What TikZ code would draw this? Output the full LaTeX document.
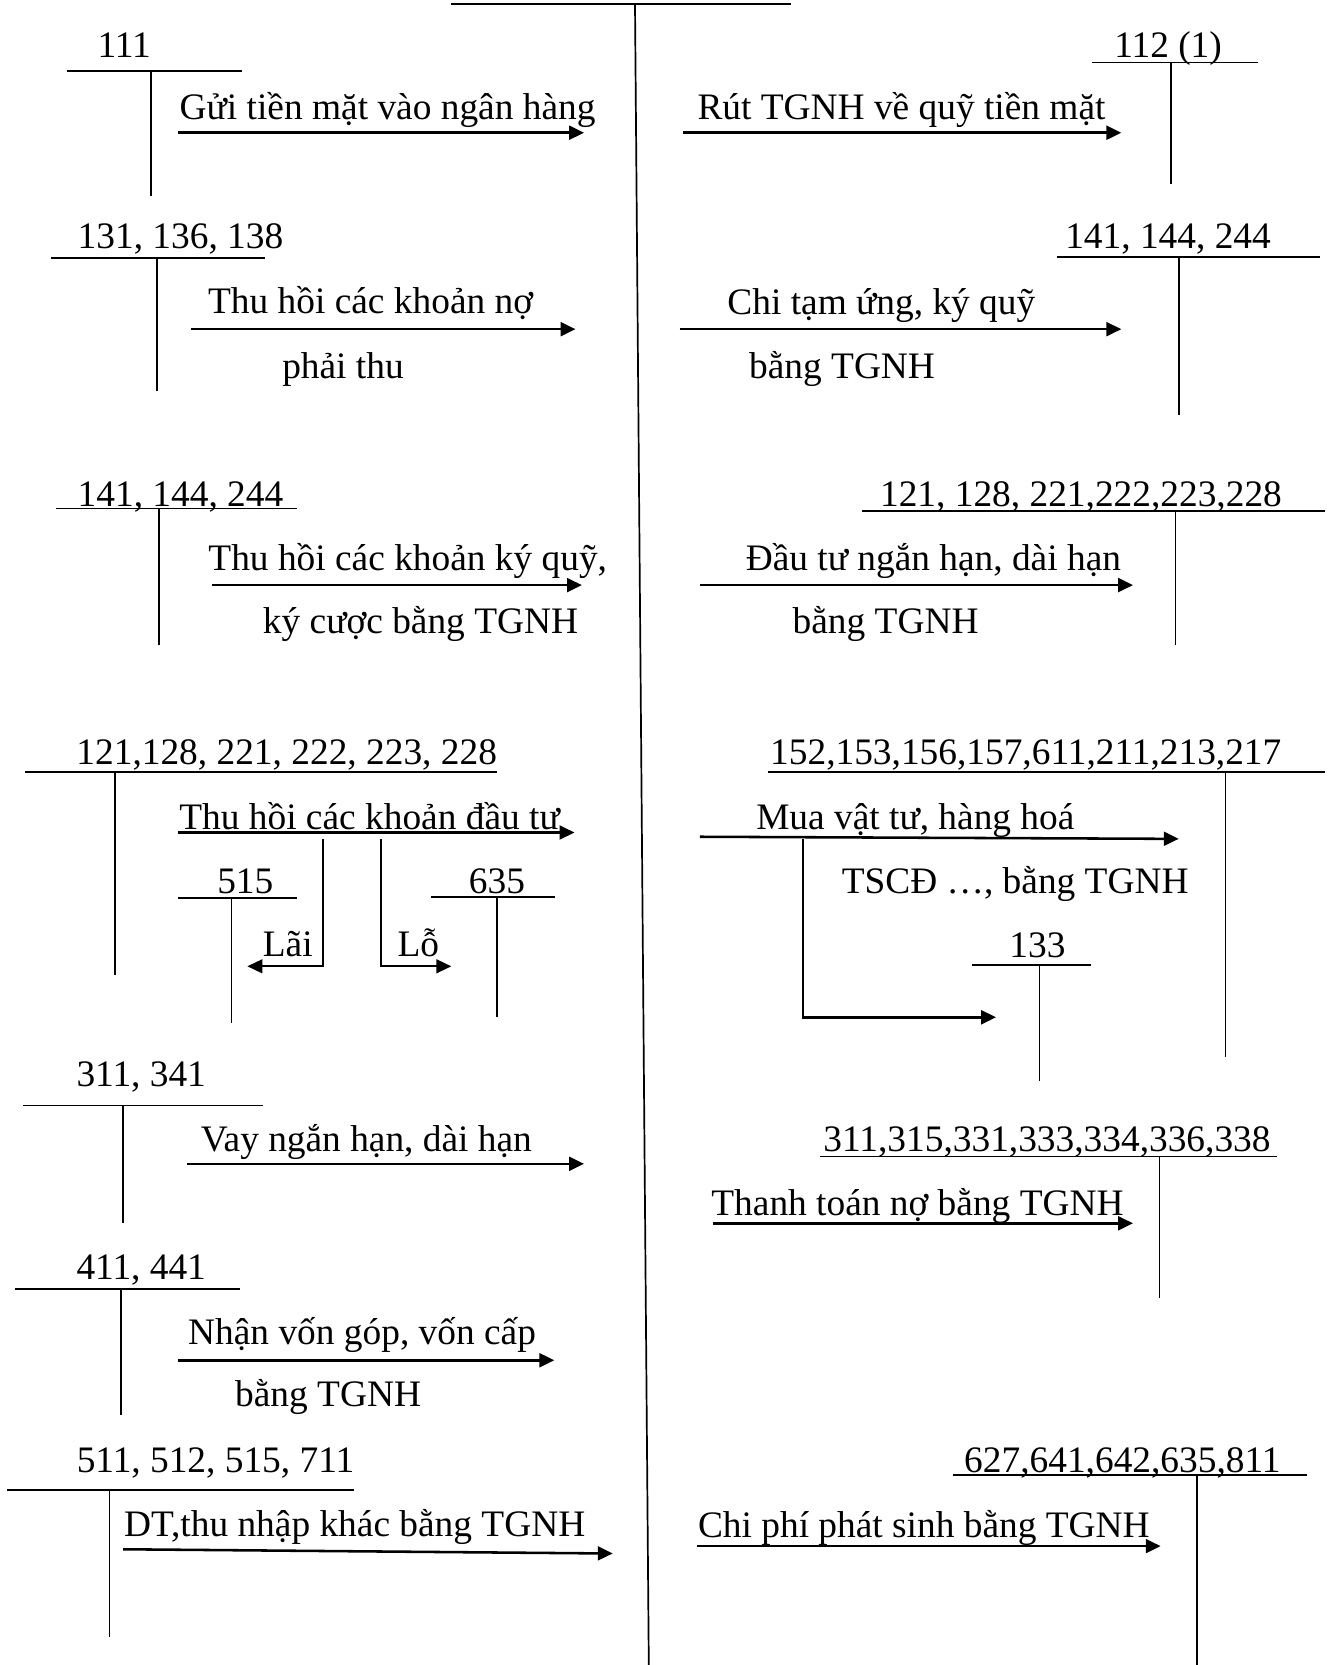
\documentclass[tikz,border=0pt]{standalone}
\usepackage{fontspec}
\setmainfont{Liberation Serif}
\usetikzlibrary{arrows.meta}

\begin{document}
\begin{tikzpicture}[x=0.5pt, y=-0.5pt, font=\fontsize{17.6}{21}\selectfont,
      acc/.style={anchor=base, inner sep=0pt},
      lbl/.style={anchor=base, inner sep=0pt},
      tline/.style={line width=0.8pt},
      arr/.style={line width=1.2pt, -{Triangle[length=7pt,width=6.5pt]}},
      thinarr/.style={line width=0.8pt, -{Triangle[length=7pt,width=6.5pt]}}]
    \useasboundingbox (0,0) rectangle (1257,1568);

    % account 112 in the middle
    \draw[tline] (425,4) -- (745,4);
    \draw[tline] (598,4) -- (611,1568);

    % T accounts: line from xa to xb at y, stem at xs down to yb
    \foreach \xa/\xb/\y/\xs/\yb in {63/228/67/142/185, 48/250/243/148/368,
        53/280/479/150/607, 24/468/727/108/918, 168/280/846/218/963,
        406/523/845/468/958, 22/248/1041/116/1152, 14/226/1214/114/1333,
        7/333/1403/103/1542, 1028/1185/59/1103/173, 995/1243/242/1110/391,
        812/1248/481/1107/607, 723/1248/727/1154/995, 915/1027/909/979/1018,
        772/1203/1089/1092/1222, 897/1231/1389/1127/1568}
      \draw[tline] (\xa,\y) -- (\xb,\y) (\xs,\y) -- (\xs,\yb);

    % account names
    \node[acc] (t111)  at (117,54)   {111};
    \node[acc] (t131)  at (170,234)  {131, 136, 138};
    \node[acc] (t141l) at (170,477)  {141, 144, 244};
    \node[acc] (t121l) at (270,720)  {121,128, 221, 222, 223, 228};
    \node[acc] (t515)  at (231,841)  {515};
    \node[acc] (t635)  at (468,841)  {635};
    \node[acc] (t311l) at (133,1023) {311, 341};
    \node[acc] (t411)  at (133,1205) {411, 441};
    \node[acc] (t511)  at (203,1387) {511, 512, 515, 711};
    \node[acc] (t112)  at (1100,54)  {112 (1)};
    \node[acc] (t141r) at (1100,234) {141, 144, 244};
    \node[acc] (t121r) at (1018,477) {121, 128, 221,222,223,228};
    \node[acc] (t152)  at (966,720)  {152,153,156,157,611,211,213,217};
    \node[acc] (t133)  at (977,902)  {133};
    \node[acc] (t311r) at (986,1084) {311,315,331,333,334,336,338};
    \node[acc] (t627)  at (1057,1387) {627,641,642,635,811};

    % left side: debit 112
    \coordinate (gui0) at (168,125);  \coordinate (gui1) at (550,125);
    \coordinate (no0)  at (180,310);  \coordinate (no1)  at (542,310);
    \coordinate (kq0)  at (200,551);  \coordinate (kq1)  at (548,551);
    \coordinate (dt0)  at (168,784);  \coordinate (dt1)  at (541,784);
    \coordinate (lai0) at (304,790);  \coordinate (lai1) at (233,910);
    \coordinate (lo0)  at (359,790);  \coordinate (lo1)  at (425,910);
    \coordinate (vay0) at (176,1096); \coordinate (vay1) at (550,1096);
    \coordinate (von0) at (168,1281); \coordinate (von1) at (522,1281);
    \coordinate (tn0)  at (116,1459); \coordinate (tn1)  at (577,1463);

    \draw[arr] (gui0) -- (gui1);
    \draw[arr] (no0) -- (no1);
    \draw[arr] (kq0) -- (kq1);
    \draw[arr] (dt0) -- (dt1);
    \draw[thinarr] (lai0) |- (lai1);
    \draw[thinarr] (lo0) |- (lo1);
    \draw[arr] (vay0) -- (vay1);
    \draw[arr] (von0) -- (von1);
    \draw[arr] (tn0) -- (tn1);

    \node[lbl] (gui)  at (365,113)  {Gửi tiền mặt vào ngân hàng};
    \node[lbl] (no)   at (349,295)  {Thu hồi các khoản nợ};
    \node[lbl] (nob)  at (323,356)  {phải thu};
    \node[lbl] (kq)   at (384,537)  {Thu hồi các khoản ký quỹ,};
    \node[lbl] (kqb)  at (396,597)  {ký cược bằng TGNH};
    \node[lbl] (dt)   at (348,781)  {Thu hồi các khoản đầu tư};
    \node[lbl] (lai)  at (271,901)  {Lãi};
    \node[lbl] (lo)   at (394,901)  {Lỗ};
    \node[lbl] (vay)  at (345,1084) {Vay ngắn hạn, dài hạn};
    \node[lbl] (von)  at (341,1266) {Nhận vốn góp, vốn cấp};
    \node[lbl] (vonb) at (309,1325) {bằng TGNH};
    \node[lbl] (tn)   at (334,1447) {DT,thu nhập khác bằng TGNH};

    % right side: credit 112
    \coordinate (rut0) at (643,125);  \coordinate (rut1) at (1056,125);
    \coordinate (tu0)  at (640,310);  \coordinate (tu1)  at (1056,310);
    \coordinate (dau0) at (659,551);  \coordinate (dau1) at (1067,551);
    \coordinate (mua0) at (659,788);  \coordinate (mua1) at (1110,790);
    \coordinate (vat0) at (756,790);  \coordinate (vat1) at (938,958);
    \coordinate (tt0)  at (671,1152); \coordinate (tt1)  at (1067,1152);
    \coordinate (cp0)  at (656,1456); \coordinate (cp1)  at (1093,1456);

    \draw[arr] (rut0) -- (rut1);
    \draw[arr] (tu0) -- (tu1);
    \draw[arr] (dau0) -- (dau1);
    \draw[arr] (mua0) -- (mua1);
    \draw[arr] (vat0) |- (vat1);
    \draw[arr] (tt0) -- (tt1);
    \draw[arr] (cp0) -- (cp1);

    \node[lbl] (rut)  at (849,113)  {Rút TGNH về quỹ tiền mặt};
    \node[lbl] (tu)   at (830,296)  {Chi tạm ứng, ký quỹ};
    \node[lbl] (tub)  at (793,356)  {bằng TGNH};
    \node[lbl] (dau)  at (879,537)  {Đầu tư ngắn hạn, dài hạn};
    \node[lbl] (daub) at (834,597)  {bằng TGNH};
    \node[lbl] (mua)  at (862,781)  {Mua vật tư, hàng hoá};
    \node[lbl] (muab) at (956,841)  {TSCĐ …, bằng TGNH};
    \node[lbl] (tt)   at (864,1145) {Thanh toán nợ bằng TGNH};
    \node[lbl] (cp)   at (870,1448) {Chi phí phát sinh bằng TGNH};
  \end{tikzpicture}
\end{document}
